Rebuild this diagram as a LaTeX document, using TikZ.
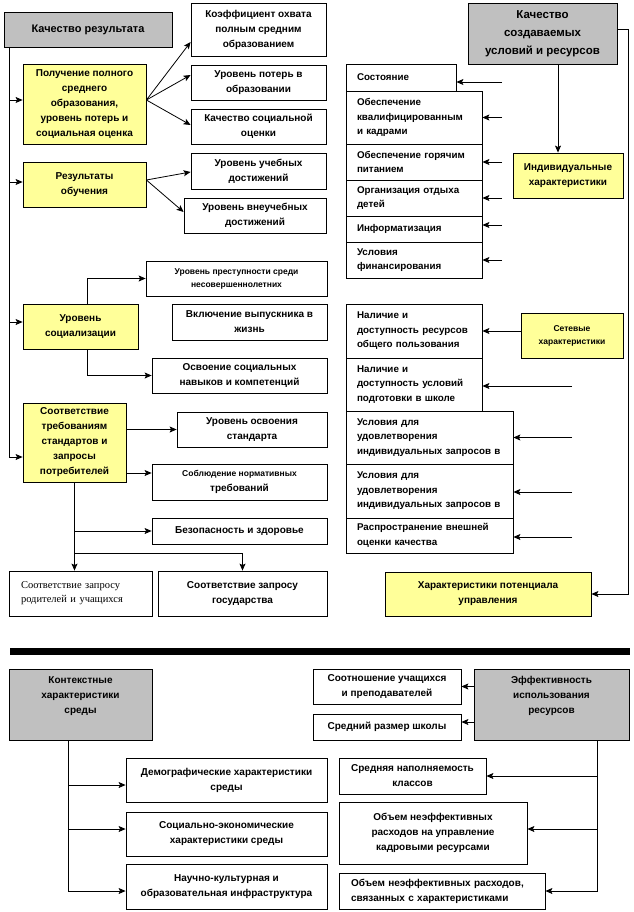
\documentclass[tikz,border=0pt]{standalone}
\usepackage{fontspec}
\setmainfont{Liberation Sans}
\newfontfamily\serifrm{Liberation Serif}
\usetikzlibrary{arrows.meta}
\definecolor{boxgray}{HTML}{C0C0C0}
\definecolor{boxyellow}{HTML}{FFFF99}
\tikzset{
  main node/.style={draw,rectangle,inner sep=2pt,align=center,font=\bfseries\fontsize{10}{15}\selectfont},
  gray node/.style={main node,fill=boxgray},
  yellow node/.style={main node,fill=boxyellow},
  list node/.style={main node,align=left,inner xsep=11pt,font=\bfseries\fontsize{9.8}{14.5}\selectfont},
  small text/.style={font=\bfseries\fontsize{8.5}{13}\selectfont}
}
\begin{document}
\begin{tikzpicture}[x=1pt,y=-1pt,>={Stealth[length=7pt,width=6pt,inset=1.5pt]},thick]
\useasboundingbox (0,0) rectangle (633,912);

		% result quality
		\node (1) [gray node,minimum width=168pt,minimum height=35pt,font=\bfseries\fontsize{11}{15}\selectfont] at (88,29.5) {Качество результата};
		\node (2) [yellow node,minimum width=123pt,minimum height=80pt] at (84.5,104) {Получение полного\\среднего\\образования,\\уровень потерь и\\социальная оценка};
		\node (3) [yellow node,minimum width=123pt,minimum height=45pt] at (84.5,184.5) {Результаты\\обучения};
		\node (4) [main node,minimum width=135pt,minimum height=53pt] at (258.5,29.5) {Коэффициент охвата\\полным средним\\образованием};
		\node (5) [main node,minimum width=135pt,minimum height=35pt] at (258.5,82.5) {Уровень потерь в\\образовании};
		\node (6) [main node,minimum width=135pt,minimum height=35pt] at (258.5,126.5) {Качество социальной\\оценки};
		\node (7) [main node,minimum width=135pt,minimum height=36pt] at (258.5,171) {Уровень учебных\\достижений};
		\node (8) [main node,minimum width=142pt,minimum height=35pt] at (255,215.5) {Уровень внеучебных\\достижений};
		\node (9) [main node,small text,minimum width=181pt,minimum height=35pt] at (236.5,278.5) {Уровень преступности среди\\несовершеннолетних};
		\node (10) [main node,minimum width=155pt,minimum height=36pt] at (249.5,322) {Включение выпускника в\\жизнь};
		\node (11) [main node,minimum width=175pt,minimum height=35pt] at (239.5,375.5) {Освоение социальных\\навыков и компетенций};
		\node (12) [yellow node,minimum width=115pt,minimum height=45pt] at (80.5,326.5) {Уровень\\социализации};
		\node (13) [yellow node,minimum width=103pt,minimum height=79pt] at (74.5,442.5) {Соответствие\\требованиям\\стандартов и\\запросы\\потребителей};
		\node (14) [main node,minimum width=150pt,minimum height=35pt] at (252,429.5) {Уровень освоения\\стандарта};
		\node (15) [main node,minimum width=175pt,minimum height=36pt] at (239.5,482) {{\fontsize{8.5}{15}\selectfont Соблюдение нормативных}\\требований};
		\node (16) [main node,minimum width=175pt,minimum height=26pt] at (239.5,531) {Безопасность и здоровье};
		\node (17) [main node,align=left,inner xsep=12pt,text width=119pt,minimum height=45pt,font=\serifrm\fontsize{10.5}{14}\selectfont] at (80.5,593.5) {Соответствие запросу\\родителей и учащихся};
		\node (18) [main node,minimum width=169pt,minimum height=45pt] at (242.5,593.5) {Соответствие запросу\\государства};

		% conditions and resources
		\node (19) [gray node,minimum width=149pt,minimum height=61pt,font=\bfseries\fontsize{11.5}{18}\selectfont] at (542.5,33.5) {Качество\\создаваемых\\условий и ресурсов};
		\node (20) [list node,text width=88pt,minimum height=27pt] at (401,77.5) {Состояние};
		\node (21) [list node,text width=114pt,minimum height=53pt] at (414,117.5) {Обеспечение\\квалифицированным\\и кадрами};
		\node (22) [list node,text width=114pt,minimum height=36pt] at (414,162) {Обеспечение горячим\\питанием};
		\node (23) [list node,text width=114pt,minimum height=36pt] at (414,198) {Организация отдыха\\детей};
		\node (24) [list node,text width=114pt,minimum height=26pt] at (414,229) {Информатизация};
		\node (25) [list node,text width=114pt,minimum height=36pt] at (414,260) {Условия\\финансирования};
		\node (26) [yellow node,minimum width=110pt,minimum height=45pt] at (568,175.5) {Индивидуальные\\характеристики};
		\node (27) [list node,text width=114pt,minimum height=54pt] at (414,331) {Наличие и\\доступность ресурсов\\общего пользования};
		\node (28) [list node,text width=114pt,minimum height=53pt] at (414,384.5) {Наличие и\\доступность условий\\подготовки в школе};
		\node (29) [list node,text width=145pt,minimum height=53pt] at (429.5,437.5) {Условия для\\удовлетворения\\индивидуальных запросов в};
		\node (30) [list node,text width=145pt,minimum height=54pt] at (429.5,491) {Условия для\\удовлетворения\\индивидуальных запросов в};
		\node (31) [list node,text width=145pt,minimum height=35pt] at (429.5,535.5) {Распространение внешней\\оценки качества};
		\node (32) [yellow node,small text,minimum width=102pt,minimum height=45pt] at (572,335.5) {Сетевые\\характеристики};
		\node (33) [yellow node,minimum width=206pt,minimum height=44pt] at (488,594) {Характеристики потенциала\\управления};

		\fill (10,648) rectangle (630,655);

		% context and efficiency
		\node (34) [gray node,minimum width=143pt,minimum height=71pt] at (80.5,704.5) {Контекстные\\характеристики\\среды\\[4pt]};
		\node (35) [main node,minimum width=148pt,minimum height=35pt] at (387,686.5) {Соотношение учащихся\\и преподавателей};
		\node (36) [main node,minimum width=148pt,minimum height=26pt] at (387,727) {Средний размер школы};
		\node (37) [gray node,minimum width=155pt,minimum height=71pt] at (551.5,704.5) {Эффективность\\использования\\ресурсов\\[4pt]};
		\node (38) [main node,minimum width=201pt,minimum height=44pt] at (226.5,780) {Демографические характеристики\\среды};
		\node (39) [main node,minimum width=201pt,minimum height=44pt] at (226.5,834) {Социально-экономические\\характеристики среды};
		\node (40) [main node,minimum width=201pt,minimum height=45pt] at (226.5,886.5) {Научно-культурная и\\образовательная инфраструктура};
		\node (41) [main node,minimum width=147pt,minimum height=36pt] at (412.5,776) {Средняя наполняемость\\классов};
		\node (42) [main node,minimum width=188pt,minimum height=62pt] at (433,833) {Объем неэффективных\\расходов на управление\\кадровыми ресурсами};
		\node (43) [main node,align=left,inner xsep=12pt,text width=182pt,minimum height=36pt] at (442,891) {Объем неэффективных расходов,\\связанных с характеристиками};

		\coordinate (t) at ([xshift=6pt]1.south west);
		\draw[->] (t) |- ([yshift=-14.5pt]13.west);
		\draw[->] ([yshift=4pt]t |- 2.west) -- ([yshift=4pt]2.west);
		\draw[->] ([yshift=2.5pt]t |- 3.west) -- ([yshift=2.5pt]3.west);
		\draw[->] ([yshift=4.5pt]t |- 12.west) -- ([yshift=4.5pt]12.west);

		\draw[->] ([yshift=4pt]2.east) to ([yshift=-12.5pt]4.west);
		\draw[->] ([yshift=4pt]2.east) to ([yshift=7.5pt]5.west);
		\draw[->] ([yshift=4pt]2.east) to ([yshift=1.5pt]6.west);
		\draw[->] ([yshift=4.5pt]3.east) to ([yshift=-1pt]7.west);
		\draw[->] ([yshift=4.5pt]3.east) to ([yshift=3.5pt]8.west);

		\draw[->] ([xshift=6.5pt]12.north) |- (9.west);
		\draw[->] ([xshift=6.5pt]12.south) |- (11.west);
		\draw[->] (13.east |- 14.west) -- (14.west);
		\draw[->] ([yshift=9pt]13.east |- 15.west) -- ([yshift=9pt]15.west);
		\coordinate (j) at ([yshift=-71pt]13.south);
		\draw[->] (13.south) -- (13.south |- 17.north);
		\draw[->] (13.south |- 16.west) -- (16.west);
		\draw[->] (j) -| (18.north);

		\coordinate (r) at ([xshift=11pt,yshift=4.5pt]19.east);
		\draw[->] ([yshift=4.5pt]19.east) -- (r) |- (33.east);
		\draw[->] ([xshift=15.5pt]19.south) -- ([xshift=15.5pt]19.south |- 26.north);

		\coordinate (s) at (502,80);
		\draw[->] ([yshift=-4.5pt]s |- 20.east) -- ([yshift=-4.5pt]20.east);
		\draw[->] (s |- 21.east) -- (21.east);
		\draw[->] (s |- 22.east) -- (22.east);
		\draw[->] (s |- 23.east) -- (23.east);
		\draw[->] ([yshift=4pt]s |- 24.east) -- ([yshift=4pt]24.east);
		\draw[->] (s |- 25.east) -- (25.east);

		\draw[->] (32.west |- 27.east) -- (27.east);
		\coordinate (u) at (572,386);
		\draw[->] ([yshift=-1.5pt]u |- 28.east) -- ([yshift=-1.5pt]28.east);
		\draw[->] (u |- 29.east) -- (29.east);
		\draw[->] ([yshift=-1pt]u |- 30.east) -- ([yshift=-1pt]30.east);
		\draw[->] ([yshift=-1.5pt]u |- 31.east) -- ([yshift=-1.5pt]31.east);

		\coordinate (b) at ([xshift=-12.5pt]34.south);
		\draw[->] (b) |- ([yshift=-4.5pt]40.west);
		\draw[->] ([yshift=-5pt]b |- 38.west) -- ([yshift=-5pt]38.west);
		\draw[->] ([yshift=5pt]b |- 39.west) -- ([yshift=5pt]39.west);
		\draw[->] (37.west |- 35.east) -- (35.east);
		\draw[->] ([yshift=5pt]37.west |- 36.east) -- ([yshift=5pt]36.east);
		\coordinate (e) at ([xshift=45.5pt]37.south);
		\draw[->] (e) |- (43.east);
		\draw[->] (e |- 41.east) -- (41.east);
		\draw[->] ([yshift=4pt]e |- 42.east) -- ([yshift=4pt]42.east);

	\end{tikzpicture}
\end{document}
